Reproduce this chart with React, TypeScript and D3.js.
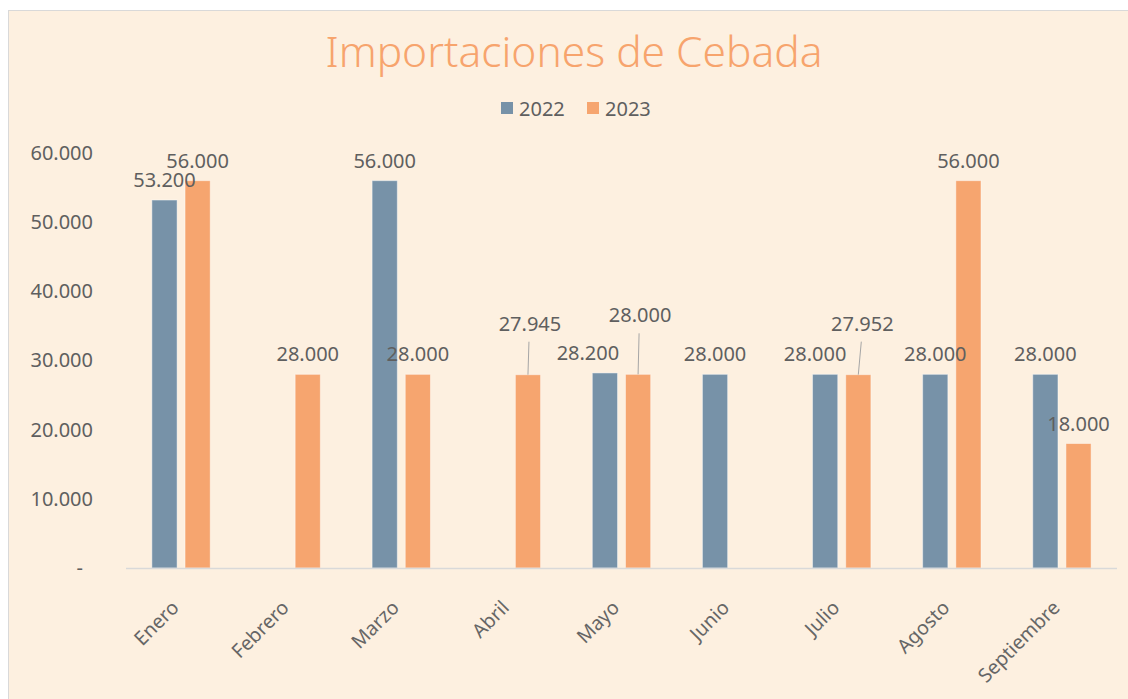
import * as d3 from "d3";
import { useEffect, useRef } from "react";

// data
const months = ["Enero", "Febrero", "Marzo", "Abril", "Mayo", "Junio", "Julio", "Agosto", "Septiembre"];
const series = ["2022", "2023"];
const values2022 = [53200, null, 56000, null, 28200, 28000, 28000, 28000, 28000];
const values2023 = [56000, 28000, 28000, 27945, 28000, null, 27952, 56000, 18000];
const yTicks = [0, 10000, 20000, 30000, 40000, 50000, 60000];

// manual label nudges, like the ones dragged around in the original workbook
const labelNudges = [
  { month: "Mayo", key: "2022", dx: -17, dy: 0, leader: false },
  { month: "Julio", key: "2022", dx: -10, dy: 0, leader: false },
  { month: "Abril", key: "2023", dx: 2, dy: -31, leader: true },
  { month: "Mayo", key: "2023", dx: 2, dy: -39, leader: true },
  { month: "Julio", key: "2023", dx: 4, dy: -31, leader: true },
];

const colors = { "2022": "#7792A8", "2023": "#F6A56F" };
const font = "'Noto Sans', sans-serif";
const textColor = "#5F5F5F";

export default function App() {
  const ref = useRef<SVGSVGElement>(null);

  useEffect(() => {
    const width = 1128;
    const height = 699;
    const left = 126;
    const right = 1117;
    const top = 153;
    const bottom = 568;

    const svg = d3.select(ref.current);
    svg.selectAll("*").remove();

    // background panel
    svg
      .append("rect")
      .attr("x", 8.5)
      .attr("y", 10.5)
      .attr("width", width)
      .attr("height", height)
      .attr("fill", "#FDF0E0")
      .attr("stroke", "#D9D9D9");

    const locale = d3.formatLocale({ decimal: ",", thousands: ".", grouping: [3], currency: ["", ""] });
    const fmt = locale.format(",");

    const x = d3.scaleBand().domain(months).range([left, right]).paddingInner(0.47).paddingOuter(0.235);
    const xs = d3.scaleBand().domain(series).range([0, x.bandwidth()]).paddingInner(0.24);
    const y = d3.scaleLinear().domain([0, 60000]).range([bottom, top]);

    // title
    svg
      .append("text")
      .attr("x", 574)
      .attr("y", 67)
      .attr("text-anchor", "middle")
      .attr("font-family", font)
      .attr("font-weight", 300)
      .attr("font-size", 42.5)
      .attr("fill", "#F7A46D")
      .text("Importaciones de Cebada");

    // legend
    const legend = svg.append("g").attr("font-family", font).attr("font-size", 20).attr("fill", textColor);
    const legendX = [501, 587];
    series.forEach((s, i) => {
      legend
        .append("rect")
        .attr("x", legendX[i])
        .attr("y", 102)
        .attr("width", 12)
        .attr("height", 12)
        .attr("fill", colors[s]);
      legend
        .append("text")
        .attr("x", legendX[i] + 18)
        .attr("y", 115.5)
        .text(s);
    });

    // y axis labels
    svg
      .append("g")
      .attr("transform", `translate(${left},0)`)
      .call(
        d3
          .axisLeft(y)
          .tickValues(yTicks)
          .tickSize(0)
          .tickPadding(33)
          .tickFormat((d) => (+d === 0 ? "-" : fmt(+d)))
      )
      .call((g) => g.select(".domain").remove())
      .call((g) =>
        g
          .selectAll("text")
          .attr("font-family", font)
          .attr("font-size", 20)
          .attr("fill", textColor)
          .attr("dx", (d) => (+d === 0 ? -10 : 0))
      );

    // bars
    const data = months.flatMap((m, i) => [
      { month: m, key: "2022", value: values2022[i] },
      { month: m, key: "2023", value: values2023[i] },
    ]).filter((d) => d.value != null) as { month: string; key: string; value: number }[];

    const barX = (d) => x(d.month)! + xs(d.key)!;

    svg
      .append("g")
      .selectAll("rect")
      .data(data)
      .join("rect")
      .attr("x", barX)
      .attr("y", (d) => y(d.value))
      .attr("width", xs.bandwidth())
      .attr("height", (d) => y(0) - y(d.value))
      .attr("fill", (d) => colors[d.key])
      .attr("stroke", "#FFFFFF")
      .attr("stroke-opacity", 0.45)
      .attr("stroke-width", 1);

    // x axis line
    svg
      .append("line")
      .attr("x1", left)
      .attr("x2", right)
      .attr("y1", bottom + 0.5)
      .attr("y2", bottom + 0.5)
      .attr("stroke", "#D9D9D9")
      .attr("stroke-width", 1.5);

    // data labels
    const nudge = (d) => labelNudges.find((n) => n.month === d.month && n.key === d.key);
    const labels = svg.append("g").attr("font-family", font).attr("font-size", 20).attr("fill", textColor);

    data.forEach((d) => {
      const n = nudge(d);
      const cx = barX(d) + xs.bandwidth() / 2;
      const lx = cx + (n ? n.dx : 0);
      const ly = y(d.value) - 13 + (n ? n.dy : 0);
      if (n && n.leader) {
        labels
          .append("line")
          .attr("x1", lx - 1)
          .attr("y1", ly + 11)
          .attr("x2", cx)
          .attr("y2", y(d.value))
          .attr("stroke", "#A6A6A6")
          .attr("stroke-width", 1);
      }
      labels
        .append("text")
        .attr("x", lx)
        .attr("y", ly)
        .attr("text-anchor", "middle")
        .text(fmt(d.value));
    });

    // month labels, rotated
    svg
      .append("g")
      .selectAll("text")
      .data(months)
      .join("text")
      .attr("transform", (m) => `translate(${x(m)! + x.bandwidth() / 2 - 1},609) rotate(-45)`)
      .attr("text-anchor", "end")
      .attr("font-family", font)
      .attr("font-size", 19.5)
      .attr("fill", "#666666")
      .text((m) => m);
  }, []);

  return (
    <svg
      ref={ref}
      width={1128}
      height={699}
      style={{ position: "absolute", left: 0, top: 0, display: "block" }}
    />
  );
}
